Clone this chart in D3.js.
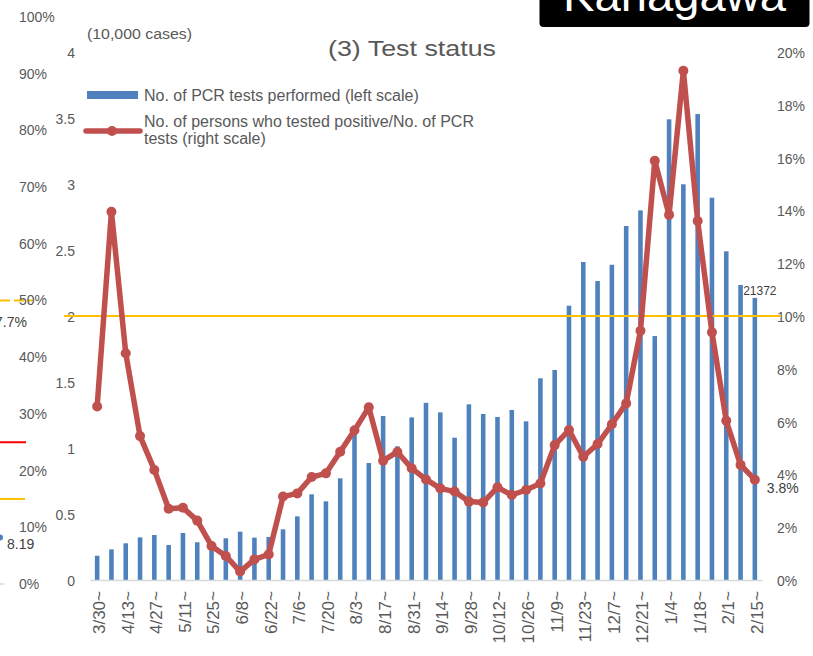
<!DOCTYPE html>
<html>
<head>
<meta charset="utf-8">
<script src="https://cdn.jsdelivr.net/npm/d3@7"></script>
<style>
  body { margin: 0; background: #fff; }
  svg { display: block; }
  text { font-family: "Liberation Sans", Arial, sans-serif; }
</style>
</head>
<body>
<svg id="chart" width="813" height="656"></svg>
<script>
// Weekly test figures, week starting
const weeks = ["3/30","4/6","4/13","4/20","4/27","5/4","5/11","5/18","5/25","6/1","6/8","6/15",
  "6/22","6/29","7/6","7/13","7/20","7/27","8/3","8/10","8/17","8/24","8/31","9/7","9/14","9/21",
  "9/28","10/5","10/12","10/19","10/26","11/2","11/9","11/16","11/23","11/30","12/7","12/14",
  "12/21","12/28","1/4","1/11","1/18","1/25","2/1","2/8","2/15"];

// No. of PCR tests performed, in units of 10,000 cases (left scale)
const pcrTests = [0.184,0.232,0.278,0.323,0.341,0.265,0.356,0.286,0.293,0.316,0.366,0.321,
  0.326,0.384,0.482,0.649,0.596,0.770,1.120,0.886,1.242,1.013,1.232,1.342,1.270,1.078,
  1.331,1.258,1.235,1.288,1.202,1.528,1.591,2.078,2.409,2.265,2.388,2.682,
  2.800,1.848,3.490,2.998,3.530,2.896,2.490,2.235,2.1372];

// Positive persons / PCR tests, percent (right scale)
const positivity = [6.57,13.95,8.59,5.45,4.17,2.70,2.74,2.25,1.29,0.91,0.32,0.78,
  0.97,3.16,3.28,3.90,4.04,4.86,5.67,6.54,4.52,4.85,4.23,3.81,3.47,3.35,
  2.97,2.94,3.51,3.22,3.41,3.66,5.11,5.68,4.67,5.15,5.90,6.69,
  9.44,15.88,13.83,19.29,13.60,9.38,6.03,4.36,3.8];

const leftTicks = [0,0.5,1,1.5,2,2.5,3,3.5,4];
const rightTicks = [0,2,4,6,8,10,12,14,16,18,20];
const thresholdRate = 10; // 10% reference line

// Edge of the neighbouring panel (2)
const prevTicks = [0,10,20,30,40,50,60,70,80,90,100];
const prevDashedLevel = 50;
const prevRedLevel = 25;
const prevOrangeLevel = 15;
const prevDotValue = 8.19;
const prevLabel = "7.7%";

const grey = "#595959";
const svg = d3.select("#chart");

// Scales
const x = d3.scaleBand().domain(weeks).range([90, 762]).paddingInner(0.68).paddingOuter(0.34);
const yLeft = d3.scaleLinear().domain([0, 4]).range([580, 52]);
const yRight = d3.scaleLinear().domain([0, 20]).range([580, 52]);
const yPrev = d3.scaleLinear().domain([0, 100]).range([584, 17]);
const cx = d => x(d) + x.bandwidth() / 2;

// ---- neighbouring panel fragment on the far left ----
const prev = svg.append("g");
prev.append("line").attr("x1", 0).attr("x2", 33)
  .attr("y1", yPrev(prevDashedLevel)).attr("y2", yPrev(prevDashedLevel))
  .attr("stroke", "#FFC000").attr("stroke-width", 2).attr("stroke-dasharray", "10,4");
prev.append("line").attr("x1", 0).attr("x2", 26)
  .attr("y1", yPrev(prevRedLevel)).attr("y2", yPrev(prevRedLevel))
  .attr("stroke", "#FF0000").attr("stroke-width", 2);
prev.append("line").attr("x1", 0).attr("x2", 25)
  .attr("y1", yPrev(prevOrangeLevel)).attr("y2", yPrev(prevOrangeLevel))
  .attr("stroke", "#FFC000").attr("stroke-width", 2);
prev.append("line").attr("x1", 0).attr("x2", 4)
  .attr("y1", yPrev(0)).attr("y2", yPrev(0))
  .attr("stroke", "#d9d9d9").attr("stroke-width", 1.5);
prev.append("circle").attr("cx", 0).attr("cy", yPrev(prevDotValue)).attr("r", 3)
  .attr("fill", "#4F81BD");
prev.append("text").attr("x", 7).attr("y", yPrev(prevDotValue) + 11)
  .attr("font-size", 14).attr("fill", "#404040").text(prevDotValue.toFixed(2));
prev.append("text").attr("x", 27).attr("y", 327).attr("text-anchor", "end")
  .attr("font-size", 14).attr("fill", "#404040").text(prevLabel);

const prevAxis = prev.append("g").attr("transform", "translate(19,0)")
  .call(d3.axisRight(yPrev).tickValues(prevTicks).tickSize(0).tickPadding(0).tickFormat(d => d + "%"));
prevAxis.select(".domain").remove();
prevAxis.selectAll("text").attr("font-size", 14).attr("fill", grey)
  .attr("font-family", "'Liberation Sans', Arial, sans-serif");

// ---- axes ----
const leftAxis = svg.append("g").attr("transform", "translate(75,1)")
  .call(d3.axisLeft(yLeft).tickValues(leftTicks).tickSize(0).tickPadding(0).tickFormat(d => String(d)));
leftAxis.select(".domain").remove();
leftAxis.selectAll("text").attr("font-size", 14).attr("fill", grey)
  .attr("font-family", "'Liberation Sans', Arial, sans-serif");

const rightAxis = svg.append("g").attr("transform", "translate(777,1)")
  .call(d3.axisRight(yRight).tickValues(rightTicks).tickSize(0).tickPadding(0).tickFormat(d => d + "%"));
rightAxis.select(".domain").remove();
rightAxis.selectAll("text").attr("font-size", 14).attr("fill", grey)
  .attr("font-family", "'Liberation Sans', Arial, sans-serif");

// ---- bars ----
svg.append("g").selectAll("rect").data(pcrTests).join("rect")
  .attr("x", (d, i) => x(weeks[i]))
  .attr("width", x.bandwidth())
  .attr("y", d => yLeft(d))
  .attr("height", d => yLeft(0) - yLeft(d))
  .attr("fill", "#4F81BD");

// x axis
const xAxis = svg.append("g").attr("transform", "translate(0,580)")
  .call(d3.axisBottom(x).tickValues(weeks.filter((d, i) => i % 2 === 0)).tickSize(0)
    .tickFormat(d => d + "~"));
xAxis.select(".domain").attr("stroke", "#d9d9d9").attr("stroke-width", 1.5);
xAxis.selectAll("text")
  .attr("transform", "rotate(-90)")
  .attr("text-anchor", "end")
  .attr("x", -11).attr("y", 2).attr("dy", "0.35em")
  .attr("font-size", 17).attr("fill", grey)
  .attr("font-family", "'Liberation Sans', Arial, sans-serif");

// 10% reference line
svg.append("line").attr("x1", 64).attr("x2", 781)
  .attr("y1", yRight(thresholdRate)).attr("y2", yRight(thresholdRate))
  .attr("stroke", "#FFC000").attr("stroke-width", 2);

// ---- positivity line ----
const line = d3.line().x((d, i) => cx(weeks[i])).y(d => yRight(d));
svg.append("path").datum(positivity).attr("d", line)
  .attr("fill", "none").attr("stroke", "#C0504D").attr("stroke-width", 5.5)
  .attr("stroke-linejoin", "round");
svg.append("g").selectAll("circle").data(positivity).join("circle")
  .attr("cx", (d, i) => cx(weeks[i])).attr("cy", d => yRight(d)).attr("r", 5)
  .attr("fill", "#C0504D");

// data labels for the latest week
const last = weeks.length - 1;
svg.append("text")
  .attr("x", cx(weeks[last]) + 5).attr("y", yLeft(pcrTests[last]) - 3)
  .attr("text-anchor", "middle").attr("font-size", 12).attr("fill", "#404040")
  .text(Math.round(pcrTests[last] * 10000));
svg.append("text")
  .attr("x", cx(weeks[last]) + 12).attr("y", yRight(positivity[last]) + 13)
  .attr("font-size", 14).attr("fill", "#404040")
  .text(positivity[last].toFixed(1) + "%");

// ---- titles ----
svg.append("text").attr("x", 87).attr("y", 39).attr("font-size", 14).attr("fill", grey)
  .attr("textLength", 105).attr("lengthAdjust", "spacingAndGlyphs").text("(10,000 cases)");
svg.append("text").attr("x", 328).attr("y", 56).attr("font-size", 22).attr("fill", grey)
  .attr("textLength", 168).attr("lengthAdjust", "spacingAndGlyphs").text("(3) Test status");

// ---- legend ----
const legend = svg.append("g");
legend.append("rect").attr("x", 87).attr("y", 91).attr("width", 51).attr("height", 8).attr("fill", "#4F81BD");
legend.append("text").attr("x", 144).attr("y", 101).attr("font-size", 16).attr("fill", grey)
  .text("No. of PCR tests performed (left scale)");
legend.append("line").attr("x1", 86).attr("x2", 140).attr("y1", 131).attr("y2", 131)
  .attr("stroke", "#C0504D").attr("stroke-width", 5.5).attr("stroke-linecap", "round");
legend.append("circle").attr("cx", 112).attr("cy", 131).attr("r", 5).attr("fill", "#C0504D");
legend.append("text").attr("x", 144).attr("y", 127).attr("font-size", 16).attr("fill", grey)
  .text("No. of persons who tested positive/No. of PCR");
legend.append("text").attr("x", 144).attr("y", 144).attr("font-size", 16).attr("fill", grey)
  .text("tests (right scale)");

// ---- prefecture badge ----
svg.append("rect").attr("x", 539.5).attr("y", -10).attr("width", 270).attr("height", 37)
  .attr("rx", 4).attr("fill", "#000");
svg.append("text").attr("x", 563).attr("y", 11).attr("font-size", 44).attr("fill", "#fff")
  .attr("font-family", "'Open Sans', 'Noto Sans', sans-serif")
  .attr("textLength", 223).attr("lengthAdjust", "spacingAndGlyphs").text("Kanagawa");
</script>
</body>
</html>
